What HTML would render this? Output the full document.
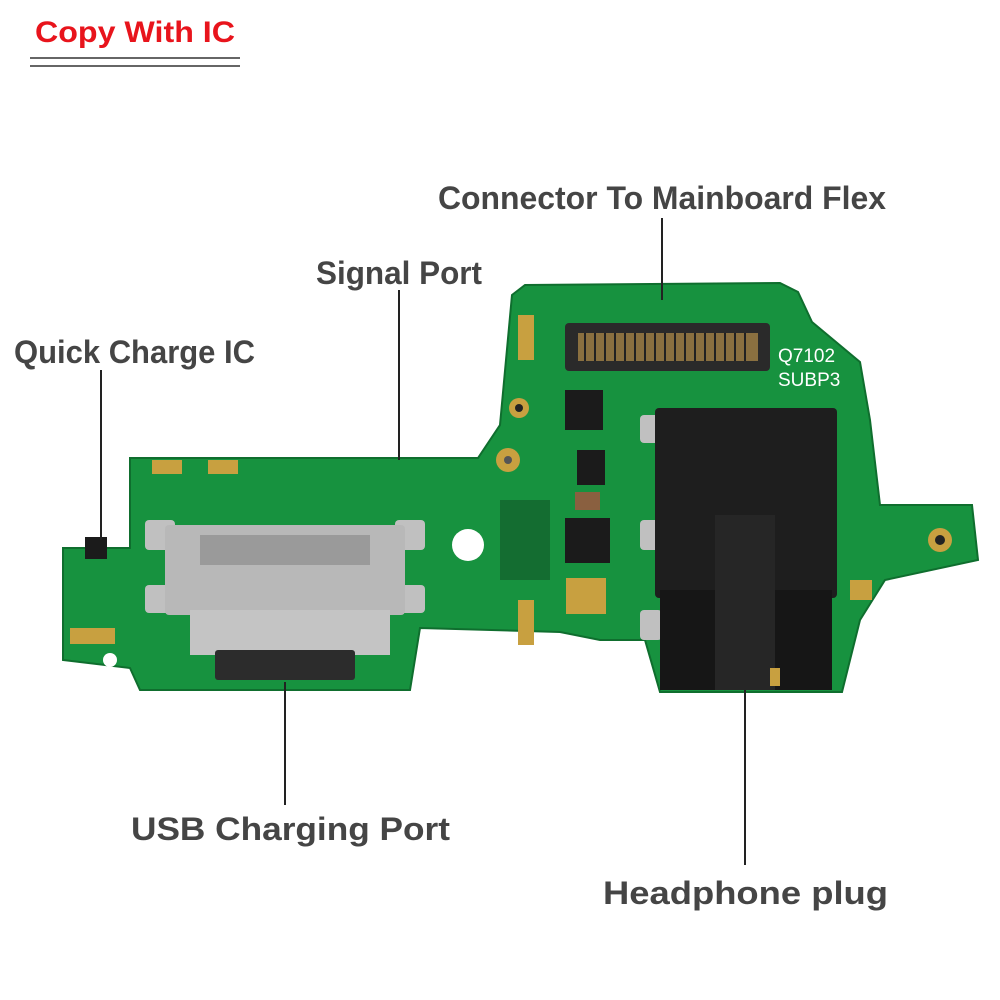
<!DOCTYPE html>
<html><head><meta charset="utf-8"><style>
html,body{margin:0;padding:0;background:#fff;}
svg{display:block;}
text{font-family:"Liberation Sans","DejaVu Sans",sans-serif;font-weight:bold;}
</style></head><body>
<svg width="1000" height="1000" viewBox="0 0 1000 1000" xmlns="http://www.w3.org/2000/svg">
<rect width="1000" height="1000" fill="#fff"/>
<text x="35" y="42" font-size="30" fill="#e8141c" textLength="200" lengthAdjust="spacingAndGlyphs">Copy With IC</text>
<line x1="30" y1="58" x2="240" y2="58" stroke="#333" stroke-width="1.5"/>
<line x1="30" y1="66" x2="240" y2="66" stroke="#333" stroke-width="1.5"/>

<polygon points="63,548 130,548 130,458 478,458 500,425 512,295 525,285 780,283 798,292 812,322 860,362 870,420 880,505 972,505 978,560 885,580 860,620 842,692 660,692 645,640 600,640 560,632 420,628 410,690 140,690 130,668 63,660" fill="#17923f" stroke="#0f6e2e" stroke-width="2"/>
<circle cx="468" cy="545" r="16" fill="#fff"/>
<circle cx="110" cy="660" r="7" fill="#fff"/>
<circle cx="940" cy="540" r="12" fill="#c8a040"/><circle cx="940" cy="540" r="5" fill="#222"/>
<circle cx="519" cy="408" r="10" fill="#c8a040"/><circle cx="519" cy="408" r="4" fill="#222"/>
<rect x="152" y="460" width="30" height="14" fill="#c8a040"/>
<rect x="208" y="460" width="30" height="14" fill="#c8a040"/>
<rect x="70" y="628" width="45" height="16" fill="#c8a040"/>
<rect x="518" y="315" width="16" height="45" fill="#c8a040"/>
<rect x="518" y="600" width="16" height="45" fill="#c8a040"/>
<rect x="566" y="578" width="40" height="36" fill="#c8a040"/>
<rect x="850" y="580" width="22" height="20" fill="#c8a040"/>
<circle cx="508" cy="460" r="12" fill="#c8a040"/><circle cx="508" cy="460" r="4" fill="#555"/>
<rect x="85" y="537" width="22" height="22" fill="#1b1b1b"/>
<rect x="565" y="390" width="38" height="40" fill="#1b1b1b"/>
<rect x="577" y="450" width="28" height="35" fill="#1b1b1b"/>
<rect x="565" y="518" width="45" height="45" fill="#1b1b1b"/>
<rect x="575" y="492" width="25" height="18" fill="#8a6040"/>
<rect x="500" y="500" width="50" height="80" fill="#146d31"/>
<rect x="565" y="323" width="205" height="48" rx="4" fill="#2a2a2a"/>
<rect x="578" y="333" width="180" height="28" fill="#8a7040"/>
<g stroke="#222" stroke-width="2">
<line x1="585" y1="333" x2="585" y2="361"/><line x1="595" y1="333" x2="595" y2="361"/><line x1="605" y1="333" x2="605" y2="361"/><line x1="615" y1="333" x2="615" y2="361"/><line x1="625" y1="333" x2="625" y2="361"/><line x1="635" y1="333" x2="635" y2="361"/><line x1="645" y1="333" x2="645" y2="361"/><line x1="655" y1="333" x2="655" y2="361"/><line x1="665" y1="333" x2="665" y2="361"/><line x1="675" y1="333" x2="675" y2="361"/><line x1="685" y1="333" x2="685" y2="361"/><line x1="695" y1="333" x2="695" y2="361"/><line x1="705" y1="333" x2="705" y2="361"/><line x1="715" y1="333" x2="715" y2="361"/><line x1="725" y1="333" x2="725" y2="361"/><line x1="735" y1="333" x2="735" y2="361"/><line x1="745" y1="333" x2="745" y2="361"/>
</g>
<text x="778" y="362" font-size="19" fill="#fff" style="font-weight:normal">Q7102</text>
<text x="778" y="386" font-size="19" fill="#fff" style="font-weight:normal">SUBP3</text>
<rect x="145" y="520" width="30" height="30" rx="4" fill="#c0c0c0"/>
<rect x="395" y="520" width="30" height="30" rx="4" fill="#c0c0c0"/>
<rect x="145" y="585" width="30" height="28" rx="4" fill="#c0c0c0"/>
<rect x="395" y="585" width="30" height="28" rx="4" fill="#c0c0c0"/>
<rect x="165" y="525" width="240" height="90" rx="4" fill="#b8b8b8"/>
<rect x="200" y="535" width="170" height="30" fill="#9a9a9a"/>
<rect x="190" y="610" width="200" height="45" fill="#c4c4c4"/>
<rect x="215" y="650" width="140" height="30" rx="3" fill="#2c2c2c"/>
<rect x="640" y="415" width="22" height="28" rx="4" fill="#c0c0c0"/>
<rect x="640" y="520" width="22" height="30" rx="4" fill="#c0c0c0"/>
<rect x="640" y="610" width="22" height="30" rx="4" fill="#c0c0c0"/>
<rect x="655" y="408" width="182" height="190" rx="4" fill="#1e1e1e"/>
<rect x="660" y="590" width="172" height="100" fill="#161616"/>
<rect x="715" y="515" width="60" height="175" fill="#262626"/>
<rect x="770" y="668" width="10" height="18" fill="#c8a040"/>

<g stroke="#222" stroke-width="2">
<line x1="662" y1="218" x2="662" y2="300"/>
<line x1="399" y1="290" x2="399" y2="460"/>
<line x1="101" y1="370" x2="101" y2="540"/>
<line x1="285" y1="682" x2="285" y2="805"/>
<line x1="745" y1="690" x2="745" y2="865"/>
</g>
<g fill="#454545" font-size="32">
<text x="438" y="209" textLength="448" lengthAdjust="spacingAndGlyphs">Connector To Mainboard Flex</text>
<text x="316" y="284" textLength="166" lengthAdjust="spacingAndGlyphs">Signal Port</text>
<text x="14" y="363" textLength="241" lengthAdjust="spacingAndGlyphs">Quick Charge IC</text>
<text x="131" y="840" textLength="319" lengthAdjust="spacingAndGlyphs">USB Charging Port</text>
<text x="603" y="904" textLength="285" lengthAdjust="spacingAndGlyphs">Headphone plug</text>
</g>
</svg>
</body></html>
